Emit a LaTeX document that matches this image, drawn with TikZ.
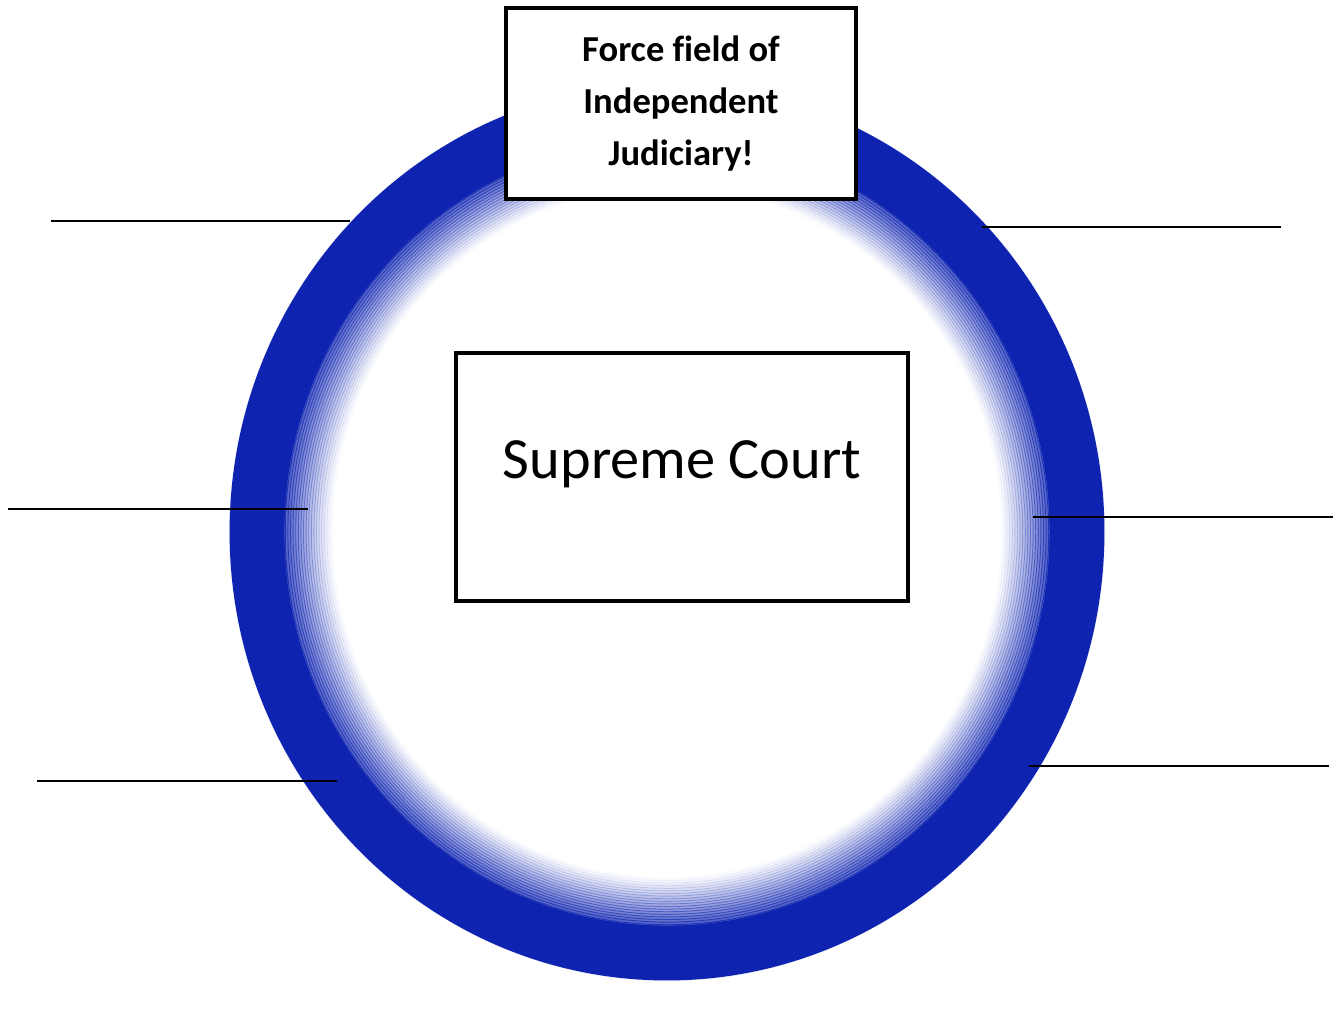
\documentclass[tikz,border=0pt]{standalone}
\usepackage{fontspec}
\setmainfont{Carlito}[Ligatures=NoCommon]
\usepackage{tikz}
\usetikzlibrary{positioning,calc}

\definecolor{ringblue}{RGB}{14,36,176}

\tikzset{
  box/.style={draw=black, fill=white, line width=1.2pt, rectangle},
  blank/.style={draw=black, line width=0.65pt},
}

\begin{document}
\begin{tikzpicture}[x=0.01cm,y=-0.01cm]
\useasboundingbox (0,0) rectangle (1337,1020);

% the force field
\coordinate (mid) at (667,532);
\foreach \k in {1,...,5}
  \draw[ringblue, opacity=0.06*\k, line width=0.9pt] (mid) ellipse ({438-\k*1.5} and {449-\k*1.5});
\draw[ringblue, line width=15.6pt] (mid) ellipse (410 and 421);
\foreach \k in {0,...,18}{
  \pgfmathsetmacro{\op}{0.75*(1-\k/19)^1.2}
  \draw[ringblue, opacity=\op, line width=1.0pt] (mid) ellipse ({383-\k*2.6} and {394-\k*2.6});
}

\node[box, minimum width=3.5cm, minimum height=1.91cm, align=center,
      font=\bfseries\fontsize{10.4pt}{14.9pt}\selectfont] (force) at (681,103.5)
  {Force field of\\Independent\\Judiciary!};
\node[box, minimum width=4.52cm, minimum height=2.48cm] (court) at (682,477) {};
\node[font=\fontsize{16.6pt}{20pt}\selectfont] (courtname) at ([yshift=0.13cm]court.center) {Supreme Court};

% blanks
\draw[blank] (51,221) -- (350,221);
\draw[blank] (8,509) -- (308,509);
\draw[blank] (37,781) -- (337,781);
\draw[blank] (982,227) -- (1281,227);
\draw[blank] (1033,517) -- (1333,517);
\draw[blank] (1029,766) -- (1329,766);
\end{tikzpicture}
\end{document}
